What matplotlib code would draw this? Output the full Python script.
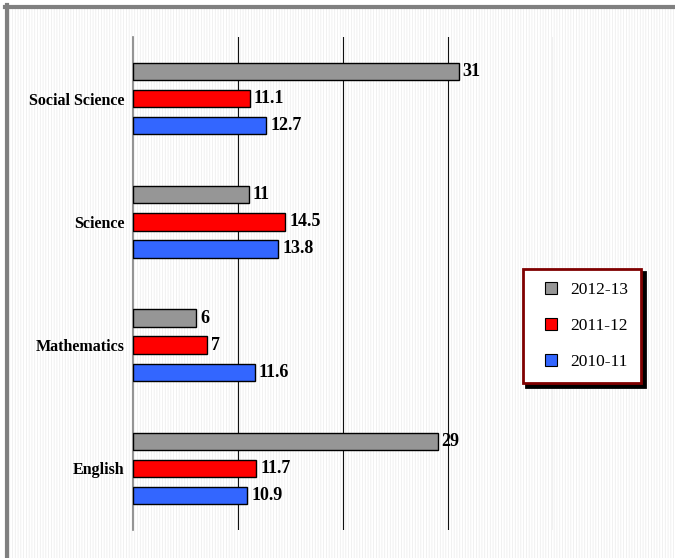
import matplotlib.pyplot as plt
from matplotlib.patches import Rectangle
from matplotlib.lines import Line2D

categories = ['English', 'Mathematics', 'Science', 'Social Science']
years = ['2012-13', '2011-12', '2010-11']
y2012 = [29, 6, 11, 31]
y2011 = [11.7, 7, 14.5, 11.1]
y2010 = [10.9, 11.6, 13.8, 12.7]
colors = ['#969696', '#ff0000', '#3366ff']

plt.rcParams['font.family'] = ['Liberation Serif', 'DejaVu Serif']
plt.rcParams['hatch.linewidth'] = 0.5

fig = plt.figure(figsize=(6.75, 5.58), dpi=100)
W, H = 675, 558

# textured background and outer border
bg = Rectangle((8 / W, 0), 1, 1 - 8 / H, transform=fig.transFigure,
               facecolor='white', edgecolor='#ebebeb', hatch='||||||',
               linewidth=0, zorder=-2)
fig.add_artist(bg)
fig.add_artist(Line2D([5 / W, 1], [1 - 7 / H, 1 - 7 / H], transform=fig.transFigure,
                      color='#808080', linewidth=3))
fig.add_artist(Line2D([7 / W, 7 / W], [0, 1 - 5 / H], transform=fig.transFigure,
                      color='#808080', linewidth=3))

ax = fig.add_axes([133 / W, 1 - 530 / H, 420 / W, 493 / H])
ax.patch.set_alpha(0)

offset = 0.22
height = 0.14
series = [y2012, y2011, y2010]
pos = range(len(categories))
for k, (vals, col, lab) in enumerate(zip(series, colors, years)):
    ys = [p + offset * (1 - k) for p in pos]
    bars = ax.barh(ys, vals, height=height, color=col, edgecolor='black',
                   linewidth=1, label=lab, zorder=3)
    for b, v in zip(bars, vals):
        ax.annotate(f'{v:g}', (b.get_width(), b.get_y() + b.get_height() / 2),
                    xytext=(3, 0), textcoords='offset points',
                    ha='left', va='center', fontsize=13, fontweight='bold',
                    zorder=4)

ax.set_xlim(0, 40)
ax.set_ylim(-0.5, 3.5)
ax.set_xticks([10, 20, 30, 40])
ax.set_xticklabels([])
ax.tick_params(axis='x', length=0)
ax.grid(axis='x', color='#111111', linewidth=0.8, zorder=0)
ax.set_yticks(list(pos))
ax.set_yticklabels(categories, fontsize=11.5, fontweight='bold')
ax.tick_params(axis='y', length=0, pad=6)
for s in ['top', 'right', 'bottom']:
    ax.spines[s].set_visible(False)
ax.spines['left'].set_color('#808080')
ax.spines['left'].set_linewidth(1.2)

handles = [Line2D([], [], marker='s', linestyle='none', markersize=8,
                  markerfacecolor=c, markeredgecolor='black', markeredgewidth=0.8)
           for c in colors]
leg = ax.legend(handles, years, loc='center',
                bbox_to_anchor=(582 / W, 1 - 326 / H), bbox_transform=fig.transFigure,
                fontsize=12.5, frameon=True, fancybox=False, borderpad=0.75,
                handlelength=1.8, handletextpad=0.2, labelspacing=1.15,
                shadow={'color': 'black', 'alpha': 1, 'ox': 2.5, 'oy': -2.5})
leg.get_frame().set_edgecolor('#7f0000')
leg.get_frame().set_linewidth(2)
leg.get_frame().set_facecolor('white')
leg.set_zorder(5)

plt.savefig('out.png', dpi=100)
